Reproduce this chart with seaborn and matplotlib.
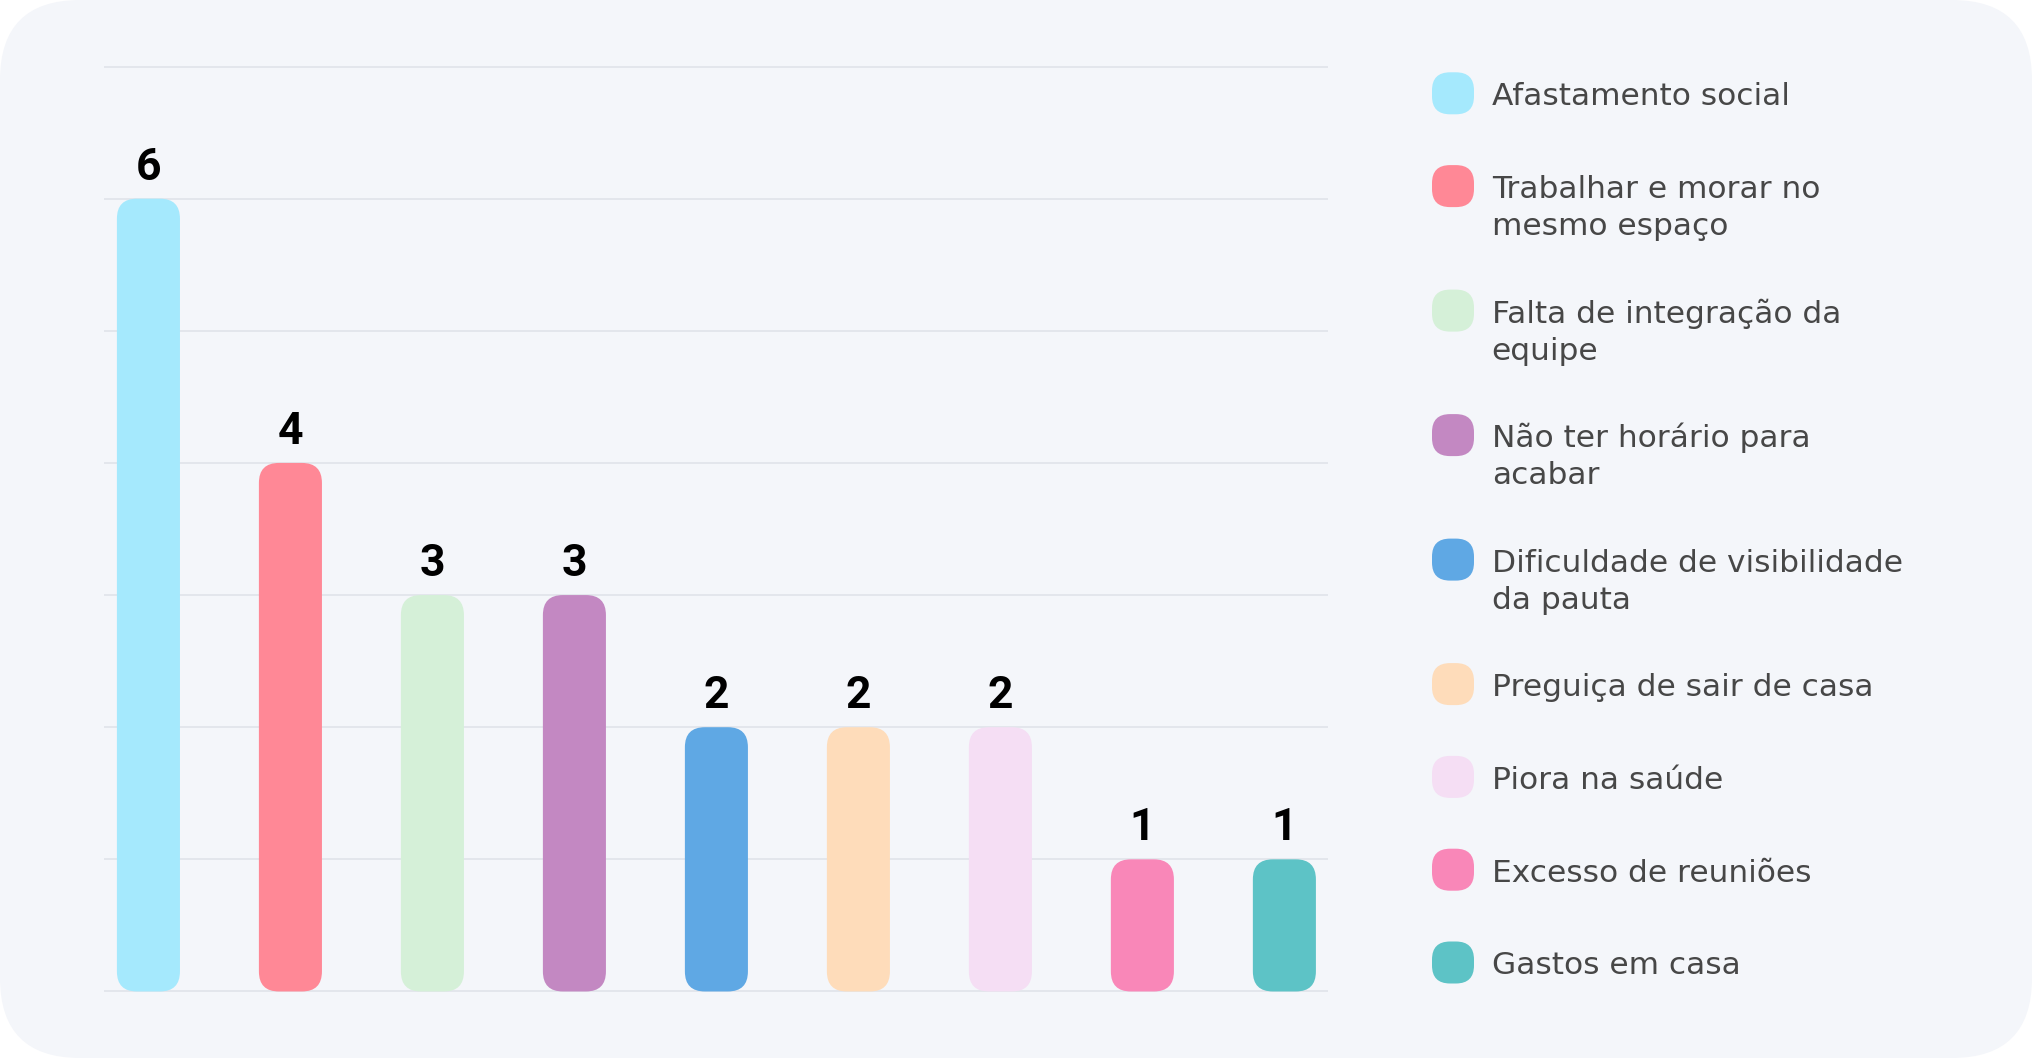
import matplotlib
import matplotlib.pyplot as plt
import seaborn as sns
from matplotlib.patches import FancyBboxPatch

matplotlib.use('Agg')  # Use a non-interactive backend

# Data
categories = [
    'Afastamento social',
    'Trabalhar e morar no\nmesmo espaço',
    'Falta de integração da\nequipe',
    'Não ter horário para\nacabar',
    'Dificuldade de visibilidade\nda pauta',
    'Preguiça de sair de casa',
    'Piora na saúde',
    'Excesso de reuniões',
    'Gastos em casa',
]
values = [6, 4, 3, 3, 2, 2, 2, 1, 1]
colors = ['#A5E9FD', '#FF8896', '#D5F0D8', '#C388C2', '#5FA8E4',
          '#FEDCBA', '#F5DEF4', '#F987B8', '#5DC3C6']

W, H, DPI = 2032, 1058, 100

sns.set_theme(style='white')
plt.rcParams['font.family'] = ['DejaVu Sans']

fig = plt.figure(figsize=(W / DPI, H / DPI), dpi=DPI)
fig.patch.set_facecolor('white')

# Rounded card background (behind the axes)
card = FancyBboxPatch((0, 0), W / DPI, H / DPI,
                      boxstyle='round,pad=0,rounding_size=0.8',
                      transform=fig.dpi_scale_trans,
                      facecolor='#F4F6FA', edgecolor='none', zorder=-5)
fig.patches.append(card)

ax = fig.add_axes([103.7 / W, 1 - 992 / H, (1328.4 - 103.7) / W, (992 - 66) / H])
ax.set_facecolor('none')
ax.set_zorder(1)

sns.barplot(x=list(range(len(values))), y=values, hue=list(range(len(values))),
            palette=colors, legend=False, width=0.444, saturation=1,
            ax=ax)

ax.set_xlim(-0.315, 8.31)
ax.set_ylim(-0.004, 7.004)
ax.set_yticks(range(0, 8))
ax.yaxis.grid(True, color='#E3E6EC', linewidth=1.4)
ax.xaxis.grid(False)
ax.set_axisbelow(True)
for s in ax.spines.values():
    s.set_visible(False)
ax.tick_params(left=False, bottom=False, labelleft=False, labelbottom=False)
ax.set_xlabel('')
ax.set_ylabel('')

# px per data unit to keep the bar corners circular
bbox = ax.get_window_extent()
px_x = bbox.width / (ax.get_xlim()[1] - ax.get_xlim()[0])
px_y = bbox.height / (ax.get_ylim()[1] - ax.get_ylim()[0])
radius_px = 20
r = radius_px / px_x
aspect = px_x / px_y

# Replace plain bars with rounded ones
bars = list(ax.patches)
for p in bars:
    x, w, h = p.get_x(), p.get_width(), p.get_height()
    rounded = FancyBboxPatch((x, 0), w, h,
                             boxstyle=f'round,pad=0,rounding_size={r}',
                             mutation_aspect=aspect,
                             facecolor=p.get_facecolor(), edgecolor='none',
                             zorder=3)
    p.remove()
    ax.add_patch(rounded)
    ax.annotate(f'{h:.0f}', (x + w / 2, h), xytext=(0, 13.7),
                textcoords='offset points', ha='center', va='baseline',
                fontsize=32, fontweight='bold', fontfamily='Roboto',
                color='black')

# Legend drawn by hand, one text per line
y = 93.3
for label, c in zip(categories, colors):
    lines = label.split('\n')
    box = FancyBboxPatch((1432 / DPI, (H - y - 21) / DPI), 42 / DPI, 42 / DPI,
                         boxstyle='round,pad=0,rounding_size=0.18',
                         transform=fig.dpi_scale_trans,
                         facecolor=c, edgecolor='none', zorder=2)
    fig.patches.append(box)
    for k, line in enumerate(lines):
        fig.text(1491.7 / W, 1 - (y + 12 + 37 * k) / H, line, ha='left',
                 va='baseline', fontsize=22.5, color='#474747')
    y += 92.8 + 31.7 * (len(lines) - 1)

fig.savefig('out.png', dpi=DPI, facecolor=fig.get_facecolor())
plt.close()
